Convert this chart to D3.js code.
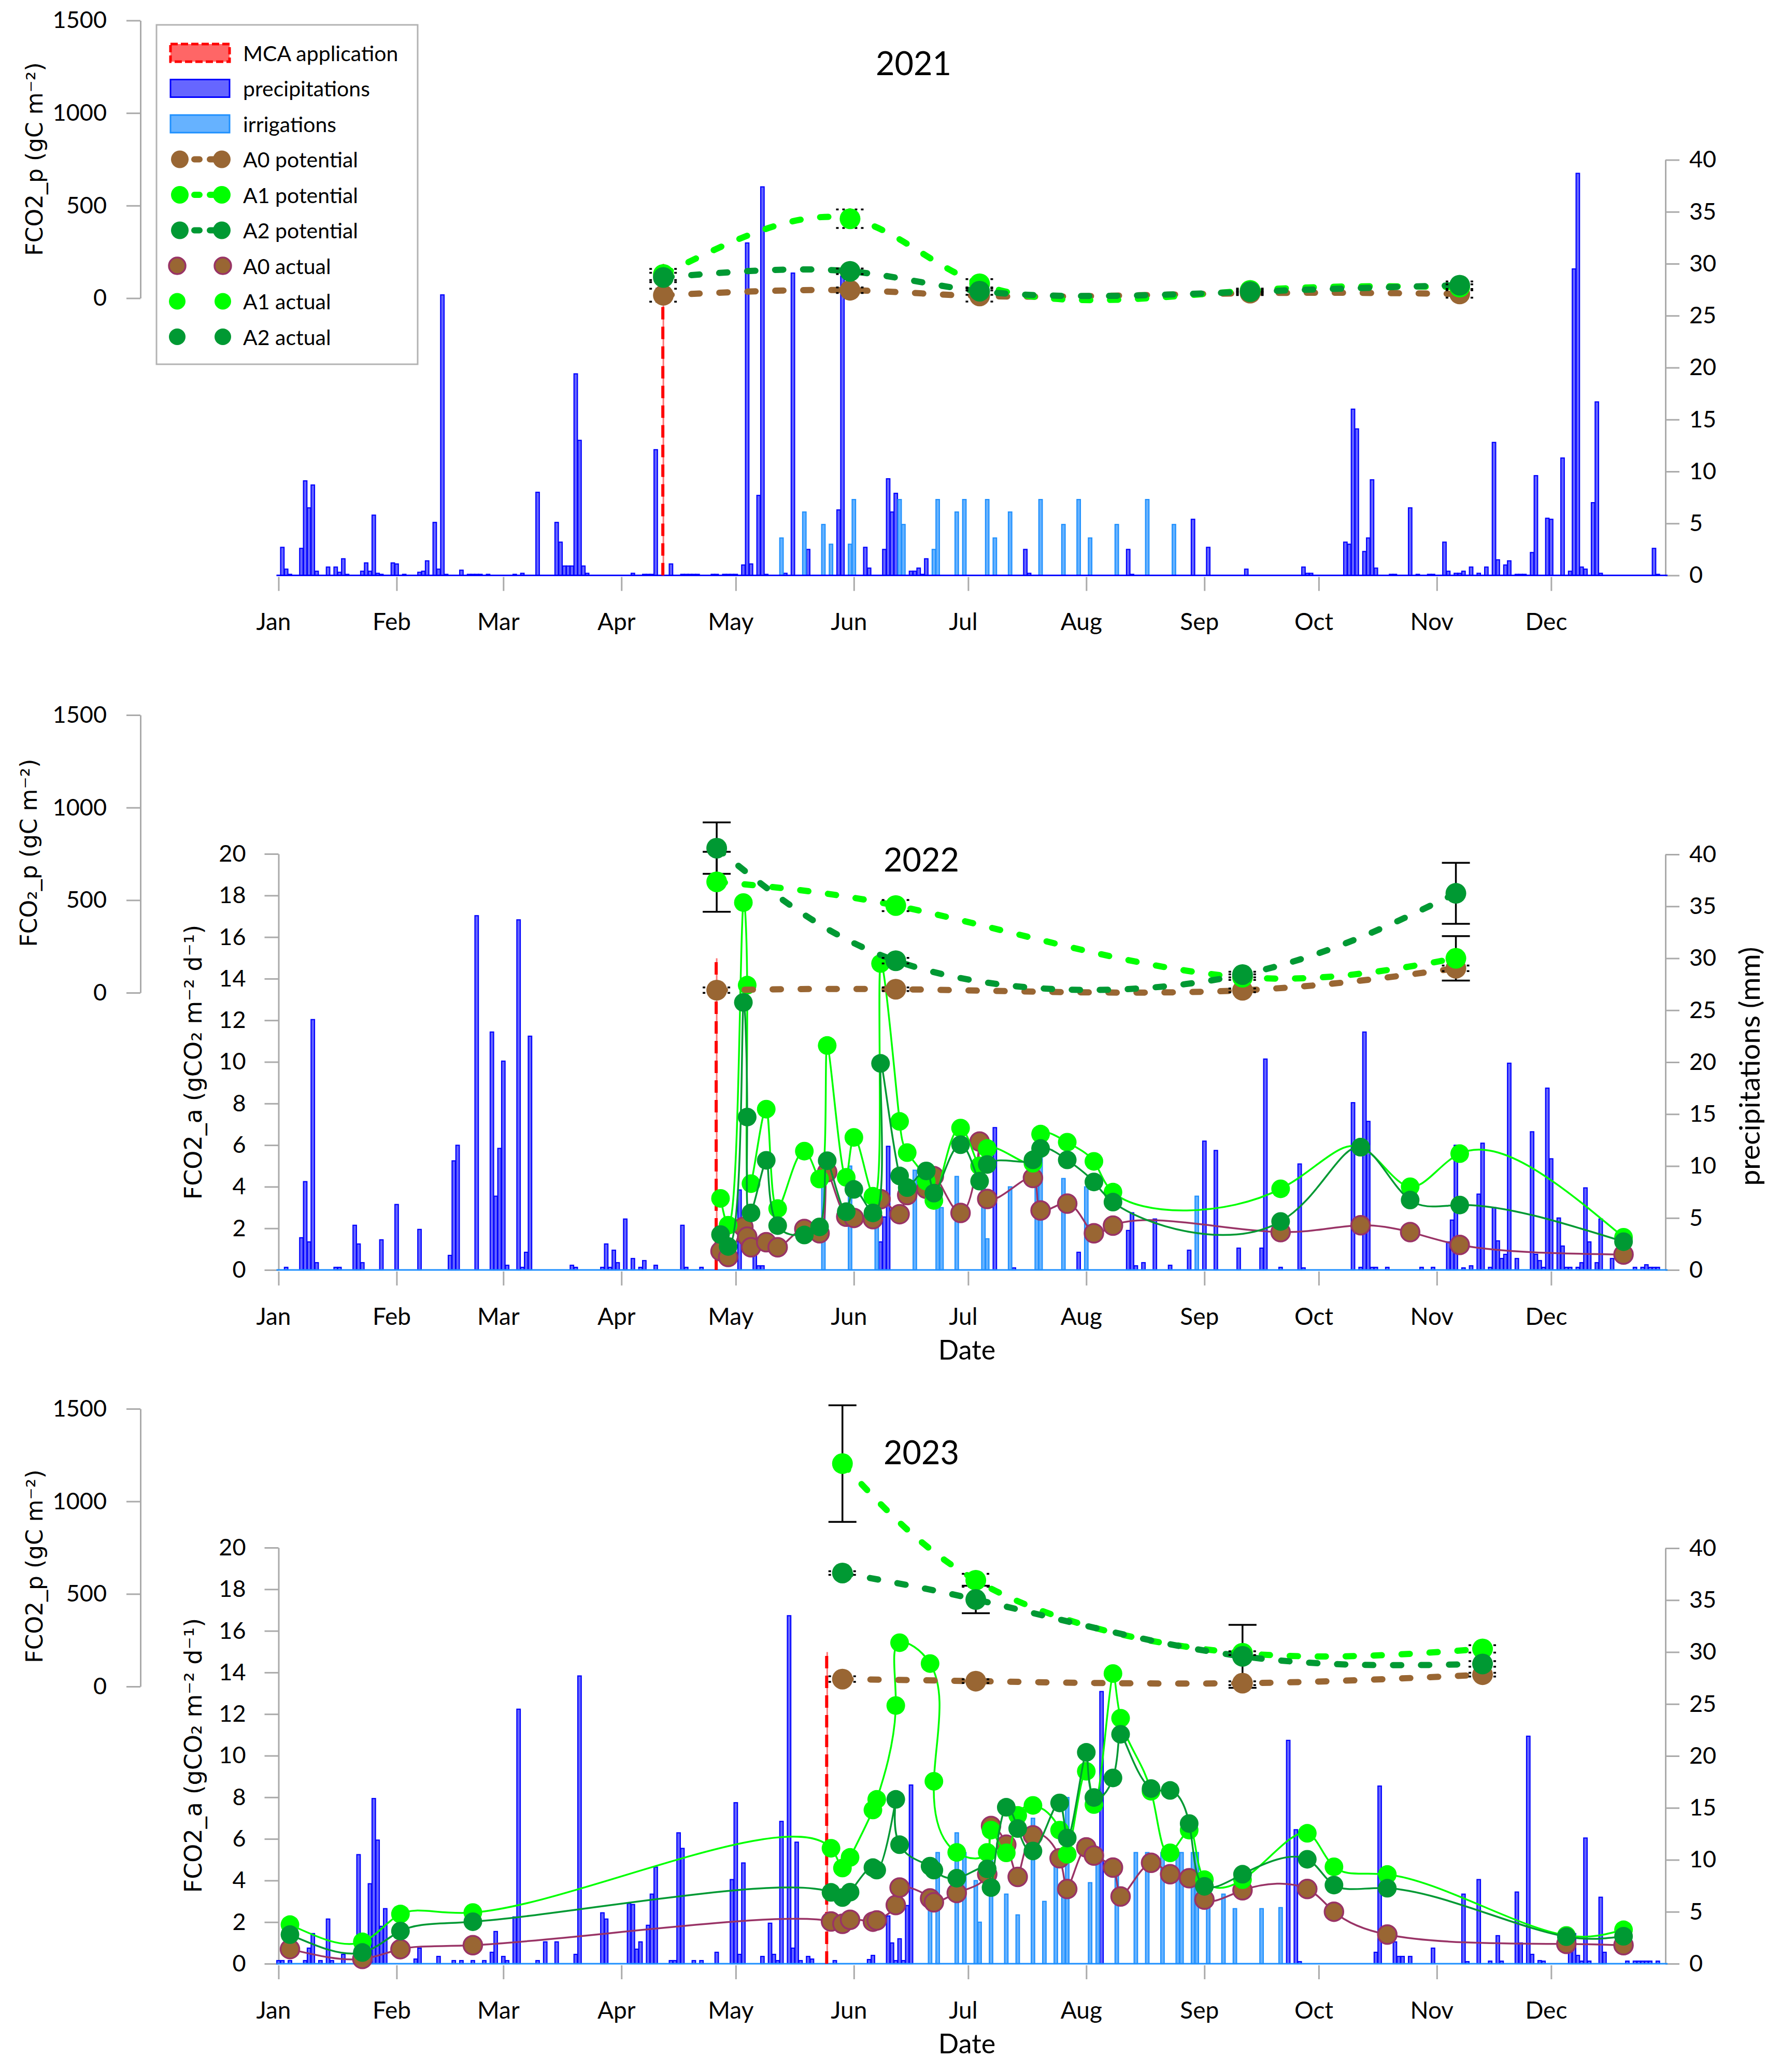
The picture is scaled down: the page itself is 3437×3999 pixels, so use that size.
<!DOCTYPE html>
<html>
<head>
<meta charset="utf-8">
<script src="https://cdn.jsdelivr.net/npm/d3@7"></script>
<style>
  body { margin: 0; background: #fff; }
</style>
</head>
<body>
<div id="chart"></div>
<script>
// ---- data (day index: 0 = 1 Jan) ----

// daily precipitation, [day, mm]
const rain2021 = [[1,2.7],[2,0.6],[3,0.1],[6,2.6],[7,9.1],[8,6.5],[9,8.7],[10,0.4],[13,0.8],[15,0.8],[16,0.3],[17,1.6],[18,0.1],
  [22,0.4],[23,1.2],[24,0.4],[25,5.8],[26,0.2],[27,0.1],[30,1.2],[31,1.1],[33,0.1],[37,0.3],[38,0.4],[39,1.4],[41,5.1],[42,0.6],
  [43,27.0],[44,0.1],[48,0.5],[50,0.1],[51,0.1],[52,0.1],[53,0.1],[55,0.1],[62,0.1],[64,0.2],[68,8.0],[73,5.1],[74,3.2],[75,0.9],
  [76,0.9],[77,0.9],[78,19.4],[79,13.0],[80,0.9],[81,0.2],[93,0.2],[96,0.1],[97,0.1],[98,0.1],[99,12.1],[103,1.1],[106,0.1],
  [107,0.1],[108,0.1],[109,0.1],[110,0.1],[114,0.1],[115,0.1],[117,0.1],[118,0.1],[119,0.1],[120,0.1],[122,1.0],[123,32.0],
  [124,1.1],[126,7.7],[127,37.4],[128,0.1],[133,0.2],[135,29.1],[139,2.5],[147,6.3],[148,28.8],[154,2.7],[155,0.7],[159,2.5],
  [160,9.3],[161,6.1],[162,7.9],[166,0.4],[167,0.4],[168,0.7],[169,0.1],[170,1.6],[196,2.5],[197,0.2],[223,2.5],[224,0.1],
  [240,5.4],[244,2.7],[254,0.6],[269,0.8],[270,0.2],[271,0.2],[280,3.2],[281,3.0],[282,16.0],[283,14.1],[285,2.3],[286,3.6],
  [287,9.2],[288,0.7],[292,0.1],[293,0.1],[297,6.5],[299,0.1],[302,0.1],[303,0.1],[306,3.2],[307,0.4],[309,0.2],[310,0.2],
  [311,0.4],[313,0.8],[315,0.2],[317,0.8],[319,12.8],[320,1.5],[322,1.0],[323,1.4],[325,0.1],[326,0.1],[327,0.1],[329,2.2],
  [330,9.6],[333,5.5],[334,5.4],[337,11.3],[339,0.4],[340,29.5],[341,38.7],[342,0.8],[343,0.6],[345,7.0],[346,16.7],[347,0.2],
  [361,2.6],[362,0.1]];
const irr2021 = [[132,3.6],[138,6.1],[143,4.9],[145,3.0],[150,3.0],[151,7.3],[163,7.3],[164,4.9],[172,2.5],[173,7.3],[178,6.1],
  [180,7.3],[186,7.3],[188,3.6],[192,6.1],[200,7.3],[206,4.9],[210,7.3],[213,3.6],[220,4.9],[228,7.3],[235,4.9]];

const rain2022 = [[2,0.25],[6,3.1],[7,8.5],[8,2.7],[9,24.1],[10,0.7],[15,0.25],[16,0.25],[20,4.3],[21,2.5],[22,0.7],[27,2.9],
  [31,6.3],[37,3.9],[45,1.4],[46,10.5],[47,12.0],[52,34.1],[56,22.9],[57,7.1],[58,11.7],[59,20.1],[60,0.45],[63,33.7],[64,0.25],
  [65,1.7],[66,22.5],[77,0.45],[78,0.25],[85,0.25],[86,2.5],[87,0.25],[88,1.9],[89,0.7],[91,4.9],[93,1.1],[95,0.25],[96,0.9],
  [99,0.45],[106,4.3],[107,0.25],[111,0.25],[121,7.7],[125,3.3],[126,0.4],[127,0.4],[158,2.7],[159,5.1],[160,11.9],[188,13.7],
  [193,0.2],[210,1.7],[223,3.8],[224,5.5],[225,0.4],[227,0.7],[230,4.9],[234,0.45],[239,1.9],[243,12.4],[246,11.5],[252,2.1],
  [258,2.1],[259,20.3],[263,0.25],[268,10.2],[269,0.2],[282,16.1],[284,0.25],[285,22.9],[286,14.3],[287,0.25],[288,0.25],
  [291,0.25],[300,0.25],[303,0.25],[307,2.7],[308,4.8],[309,12.0],[311,0.2],[313,0.4],[315,7.3],[316,12.2],[318,0.25],[319,6.0],
  [320,2.8],[321,1.1],[322,1.5],[323,19.9],[325,1.1],[329,13.3],[330,1.5],[331,0.9],[332,0.25],[333,17.5],[334,10.7],[336,5.0],
  [337,2.3],[338,0.25],[339,0.25],[341,0.25],[342,0.7],[343,7.9],[344,2.7],[346,0.7],[347,4.9],[350,1.1],[356,0.25],[358,0.25],
  [359,0.5],[360,0.25],[361,0.25],[362,0.25]];
const irr2022 = [[143,10.0],[150,10.0],[157,6.3],[167,9.6],[173,9.0],[174,6.0],[178,9.0],[185,9.0],[186,3.0],[192,8.0],
  [199,10.4],[200,11.3],[206,8.8],[212,8.0],[241,7.1]];

const rain2023 = [[0,0.3],[1,0.3],[3,0.3],[7,0.3],[8,1.5],[9,2.9],[11,0.3],[13,4.3],[14,0.3],[17,0.9],[21,10.5],[24,7.7],
  [25,15.9],[26,11.9],[27,3.6],[28,5.3],[36,0.45],[37,1.5],[42,0.7],[46,0.3],[48,0.3],[51,0.3],[54,0.3],[56,1.1],[57,3.1],
  [59,0.7],[60,0.3],[62,4.5],[63,24.5],[68,0.3],[70,2.1],[73,2.1],[78,0.9],[79,27.7],[85,4.9],[86,4.3],[92,5.8],[93,5.7],
  [94,1.4],[95,2.1],[97,3.7],[98,6.7],[99,9.3],[103,0.3],[104,0.3],[105,12.6],[106,11.1],[109,0.3],[111,0.3],[115,1.1],
  [119,8.1],[120,15.5],[121,0.9],[122,9.7],[127,0.7],[129,3.9],[130,0.9],[131,0.3],[132,13.7],[134,33.5],[135,1.5],[136,11.7],
  [137,0.3],[139,0.7],[140,0.45],[146,0.3],[155,0.4],[156,0.8],[160,4.6],[161,2.0],[162,0.3],[163,2.4],[164,0.3],[165,5.6],
  [166,17.2],[173,0.3],[216,26.2],[265,21.5],[267,12.9],[268,0.2],[288,1.1],[289,17.1],[293,2.1],[294,0.7],[295,0.7],[297,0.7],
  [303,1.5],[311,6.7],[312,0.2],[315,8.1],[318,0.25],[320,2.7],[321,0.25],[325,6.9],[326,2.0],[328,21.9],[329,0.9],[331,0.3],
  [332,0.25],[339,2.1],[340,2.9],[341,0.8],[342,0.25],[343,12.1],[344,0.25],[347,6.4],[348,1.1],[354,0.25],[356,0.25],
  [357,0.25],[358,0.25],[359,0.25],[360,0.25],[362,0.25]];
const irr2023 = [[171,5.3],[173,10.7],[178,12.6],[180,10.7],[183,8.0],[184,4.0],[187,10.7],[191,6.7],[194,4.7],[198,14.0],
  [201,6.0],[204,10.7],[206,7.3],[207,16.0],[213,7.8],[215,10.7],[220,9.4],[225,10.7],[228,10.7],[232,10.7],[236,10.7],
  [237,10.7],[240,10.7],[241,10.7],[244,6.7],[248,6.7],[251,5.3],[258,5.3],[263,5.4]];

// MCA application day
const mcaDays = [101, 115, 144];

// potential FCO2 (gC m-2) with error bars
const pot2021Days = [101, 150, 184, 255, 310];
const pot2021A0 = [16, 43, 12, 27, 23];
const pot2021A1 = [128, 429, 78, 42, 60];
const pot2021A2 = [112, 145, 38, 35, 70];
const err2021A0 = [35, 15, 30, 10, 20];
const err2021A1 = [30, 50, 25, 10, 15];
const err2021A2 = [25, 15, 20, 10, 20];

const pot2022Days = [115, 162, 253, 309];
const pot2022A0 = [14, 19, 13, 132];
const pot2022A1 = [599, 471, 84, 186];
const pot2022A2 = [781, 173, 98, 537];
const err2022A0 = [15, 10, 10, 15];
const err2022A1 = [162, 30, 15, 120];
const err2022A2 = [139, 15, 15, 165];

const pot2023Days = [148, 183, 253, 316];
const pot2023A0 = [40, 29, 18, 64];
const pot2023A1 = [1204, 574, 180, 203];
const pot2023A2 = [613, 470, 163, 122];
const err2023A0 = [15, 10, 10, 10];
const err2023A1 = [315, 35, 10, 20];
const err2023A2 = [10, 74, 170, 15];

// actual FCO2 (gCO2 m-2 d-1)
const act2022Days = [116,118,122,123,124,128,131,138,142,144,149,151,156,158,163,165,170,172,179,184,186,198,200,207,214,219,263,284,297,310,353];
const act2022A0 = [0.9,0.62,2.07,1.6,1.09,1.33,1.09,1.97,1.76,4.7,2.56,2.5,2.44,3.4,2.68,3.6,3.9,4.51,2.74,6.17,3.41,4.42,2.86,3.19,1.76,2.13,1.82,2.15,1.82,1.2,0.74];
const act2022A1 = [3.44,2.15,17.66,13.69,4.15,7.73,2.95,5.71,4.37,10.79,4.45,6.37,3.54,14.73,7.14,5.64,4.27,3.34,6.82,5.0,5.84,5.13,6.53,6.14,5.22,3.74,3.9,5.9,4.0,5.59,1.57];
const act2022A2 = [1.7,1.13,12.86,7.35,2.74,5.27,2.13,1.68,2.07,5.25,2.8,3.87,2.74,9.93,4.52,3.96,4.76,3.69,6.02,4.27,5.07,5.29,5.84,5.29,4.23,3.26,2.33,5.9,3.36,3.12,1.36];

const act2023Days = [3,22,32,51,145,148,150,156,157,162,163,171,172,178,186,187,191,194,198,205,207,212,214,219,221,229,234,239,243,253,270,277,291,338,353];
const act2023A0 = [0.7,0.23,0.7,0.89,2.03,1.92,2.11,2.02,2.08,2.82,3.66,3.14,2.95,3.4,4.3,6.62,5.72,4.17,6.17,5.07,3.59,5.59,5.2,4.62,3.23,4.85,4.3,4.11,3.08,3.53,3.59,2.5,1.4,0.95,0.89];
const act2023A1 = [1.88,1.05,2.39,2.46,5.55,4.6,5.11,7.39,7.9,12.41,15.43,14.43,8.77,5.35,5.35,6.42,5.33,7.13,7.61,6.42,5.26,9.25,7.65,13.95,11.8,8.29,5.33,6.42,4.04,4.04,6.27,4.66,4.29,1.36,1.63];
const act2023A2 = [1.4,0.54,1.57,2.02,3.43,3.18,3.44,4.62,4.5,7.9,5.72,4.69,4.5,4.11,4.56,3.66,7.52,6.5,5.42,7.73,6.04,10.16,7.99,8.93,11.03,8.42,8.33,6.74,3.72,4.3,5.02,3.78,3.63,1.3,1.32];

const rainTicks = [0, 5, 10, 15, 20, 25, 30, 35, 40];
const potTicks = [0, 500, 1000, 1500];
const actTicks = [0, 2, 4, 6, 8, 10, 12, 14, 16, 18, 20];
const legendLabels = ["MCA application", "precipitations", "irrigations", "A0 potential", "A1 potential",
  "A2 potential", "A0 actual", "A1 actual", "A2 actual"];

// ---- drawing ----
const W = 3437, H = 3999;
const X0 = 537.5, X1 = 3214, PAX = 271;
const FONT = "Lato, 'Open Sans', sans-serif";
const FONT2 = "'DejaVu Sans', Verdana, sans-serif";
const col = {
  a0: "#996633", a0line: "#993366", a1: "#00ff00", a2: "#009933",
  rain: "#6666ff", rainS: "#0000ff", irr: "#66b2ff", irrS: "#1e90ff", axis: "#aaaaaa"
};

// natural cubic spline through the points, parametrised by chord length^0.65
function solveM(p, h) {
  const n = p.length, m = n - 2;
  const M = new Array(n).fill(0);
  const a = [], b = [], c = [], r = [];
  for (let i = 1; i <= n - 2; i++) {
    a.push(h[i - 1]); b.push(2 * (h[i - 1] + h[i])); c.push(h[i]);
    r.push(6 * ((p[i + 1] - p[i]) / h[i] - (p[i] - p[i - 1]) / h[i - 1]));
  }
  for (let i = 1; i < m; i++) {
    const w = a[i] / b[i - 1];
    b[i] -= w * c[i - 1];
    r[i] -= w * r[i - 1];
  }
  const s = new Array(m);
  s[m - 1] = r[m - 1] / b[m - 1];
  for (let i = m - 2; i >= 0; i--) s[i] = (r[i] - c[i] * s[i + 1]) / b[i];
  for (let i = 0; i < m; i++) M[i + 1] = s[i];
  return M;
}
function curveSpline(context) {
  let pts;
  return {
    areaStart() {}, areaEnd() {},
    lineStart() { pts = []; },
    point(x, y) { pts.push([+x, +y]); },
    lineEnd() {
      const n = pts.length;
      if (!n) return;
      context.moveTo(pts[0][0], pts[0][1]);
      if (n === 1) return;
      if (n === 2) { context.lineTo(pts[1][0], pts[1][1]); return; }
      const h = [];
      for (let i = 0; i < n - 1; i++) {
        const dist = Math.hypot(pts[i + 1][0] - pts[i][0], pts[i + 1][1] - pts[i][1]);
        h.push(Math.max(1e-6, Math.pow(dist, 0.65)));
      }
      const M = [0, 1].map(k => solveM(pts.map(q => q[k]), h));
      for (let i = 0; i < n - 1; i++) {
        const c1 = [], c2 = [];
        for (let k = 0; k < 2; k++) {
          const p0 = pts[i][k], p1 = pts[i + 1][k], m0 = M[k][i], m1 = M[k][i + 1], hi = h[i];
          const sl = (p1 - p0) / hi;
          const d0 = sl - hi * (2 * m0 + m1) / 6;
          const d1 = sl + hi * (m0 + 2 * m1) / 6;
          c1[k] = p0 + d0 * hi / 3;
          c2[k] = p1 - d1 * hi / 3;
        }
        context.bezierCurveTo(c1[0], c1[1], c2[0], c2[1], pts[i + 1][0], pts[i + 1][1]);
      }
    }
  };
}

const svg = d3.select("#chart").append("svg")
  .attr("width", W).attr("height", H)
  .style("background", "#fff");

const panels = [
  { year: 2021, base: 1110.5, titleY: 145, titleX: 1763, rain: rain2021, irr: irr2021, mca: mcaDays[0],
    potDays: pot2021Days, pot: [pot2021A0, pot2021A1, pot2021A2], err: [err2021A0, err2021A1, err2021A2],
    act: null, pLabel: "FCO2_p (gC m\u207b\u00b2)", pLabelPos: [66, 307], baseColor: col.rainS },
  { year: 2022, base: 2451, titleY: 1682, titleX: 1778, rain: rain2022, irr: irr2022, mca: mcaDays[1],
    potDays: pot2022Days, pot: [pot2022A0, pot2022A1, pot2022A2], err: [err2022A0, err2022A1, err2022A2],
    actDays: act2022Days, act: [act2022A0, act2022A1, act2022A2],
    pLabel: "FCO\u2082_p (gC m\u207b\u00b2)", pLabelPos: [55, 1646], aLabelPos: [373, 2050],
    rLabel: true, dateLabel: 2624, baseColor: col.irrS },
  { year: 2023, base: 3790, titleY: 2826, titleX: 1778, rain: rain2023, irr: irr2023, mca: mcaDays[2],
    potDays: pot2023Days, pot: [pot2023A0, pot2023A1, pot2023A2], err: [err2023A0, err2023A1, err2023A2],
    actDays: act2023Days, act: [act2023A0, act2023A1, act2023A2],
    pLabel: "FCO2_p (gC m\u207b\u00b2)", pLabelPos: [66, 3023], aLabelPos: [373, 3388],
    dateLabel: 3963, baseColor: col.irrS }
];

function styleAxis(sel, size) {
  sel.select(".domain").attr("stroke", col.axis).attr("stroke-width", 3);
  sel.selectAll(".tick line").attr("stroke", col.axis).attr("stroke-width", 3);
  sel.selectAll(".tick text").attr("font-size", size).attr("fill", "#000").attr("font-family", FONT);
}

const potFill = [col.a0, col.a1, col.a2];
const actLine = [col.a0line, col.a1, col.a2];
const fmt = d3.format("d");

panels.forEach(p => {
  const g = svg.append("g");
  const jan1 = new Date(p.year, 0, 1);
  const day = d => d3.timeDay.offset(jan1, d);
  const x = d3.scaleTime().domain([jan1, new Date(p.year, 11, 31)]).range([X0, X1]);
  const yR = d3.scaleLinear().domain([0, 40]).range([p.base, p.base - 802]);
  const pZero = p.base - 535;
  const yP = d3.scaleLinear().domain([0, 1500]).range([pZero, pZero - 536]);
  const yA = d3.scaleLinear().domain([0, 20]).range([p.base, p.base - 803]);

  // axes
  g.append("g").attr("transform", `translate(${PAX},0)`)
    .call(d3.axisLeft(yP).tickValues(potTicks).tickFormat(fmt).tickSize(27).tickPadding(38).tickSizeOuter(0))
    .call(s => styleAxis(s, 45));
  g.append("g").attr("transform", `translate(${X1},0)`)
    .call(d3.axisRight(yR).tickValues(rainTicks).tickFormat(fmt).tickSize(27).tickPadding(19).tickSizeOuter(0))
    .call(s => styleAxis(s, 45));
  if (p.act) {
    g.append("g").attr("transform", `translate(${X0},0)`)
      .call(d3.axisLeft(yA).tickValues(actTicks).tickFormat(fmt).tickSize(27).tickPadding(36).tickSizeOuter(0))
      .call(s => styleAxis(s, 45));
  }
  g.append("g").attr("transform", `translate(0,${p.base + 3})`)
    .call(d3.axisBottom(x).tickValues(d3.timeMonths(jan1, new Date(p.year, 11, 31)))
      .tickFormat(d3.timeFormat("%b")).tickSize(27).tickPadding(43).tickSizeOuter(0))
    .call(s => styleAxis(s, 46))
    .call(s => s.selectAll(".tick text").attr("dx", -10))
    .call(s => s.select(".domain").remove());

  // precipitation and irrigation bars
  g.append("g").selectAll("rect").data(p.rain).join("rect")
    .attr("x", d => x(day(d[0])) - 3.3).attr("width", 6.6)
    .attr("y", d => yR(d[1])).attr("height", d => p.base - yR(d[1]))
    .attr("fill", col.rain).attr("stroke", col.rainS).attr("stroke-width", 2.2);
  g.append("g").selectAll("rect").data(p.irr).join("rect")
    .attr("x", d => x(day(d[0])) - 3.3).attr("width", 6.6)
    .attr("y", d => yR(d[1])).attr("height", d => p.base - yR(d[1]))
    .attr("fill", col.irr).attr("stroke", col.irrS).attr("stroke-width", 2.2);
  g.append("line")
    .attr("x1", X0 - 4).attr("x2", X1 + 4).attr("y1", p.base).attr("y2", p.base)
    .attr("stroke", p.baseColor).attr("stroke-width", 3);

  // MCA application
  const mx = x(day(p.mca));
  g.append("line").attr("x1", mx).attr("x2", mx).attr("y1", yR(0)).attr("y2", yR(30))
    .attr("stroke", "#ff7777").attr("stroke-width", 3);
  g.append("line").attr("x1", mx - 1).attr("x2", mx - 1).attr("y1", yR(0)).attr("y2", yR(30))
    .attr("stroke", "#ff0000").attr("stroke-width", 6).attr("stroke-dasharray", "24,14");

  // actual series
  if (p.act) {
    p.act.forEach((vals, k) => {
      const pts = p.actDays.map((d, i) => [x(day(d)), yA(vals[i])]);
      g.append("path").attr("d", d3.line().curve(curveSpline)(pts))
        .attr("fill", "none").attr("stroke", actLine[k]).attr("stroke-width", 3.5);
      g.append("g").selectAll("circle").data(pts).join("circle")
        .attr("cx", d => d[0]).attr("cy", d => d[1]).attr("r", 18)
        .attr("fill", potFill[k])
        .attr("stroke", k === 0 ? col.a0line : "none").attr("stroke-width", 3.5);
    });
  }

  // potential series
  p.pot.forEach((vals, k) => {
    const pts = p.potDays.map((d, i) => [x(day(d)), yP(vals[i])]);
    g.append("path").attr("d", d3.line().curve(curveSpline)(pts))
      .attr("fill", "none").attr("stroke", potFill[k]).attr("stroke-width", 12)
      .attr("stroke-linecap", "round").attr("stroke-dasharray", "16,38");
  });
  p.pot.forEach((vals, k) => {
    const eg = g.append("g").attr("stroke", "#000").attr("stroke-width", 3.5);
    p.potDays.forEach((d, i) => {
      const cx = x(day(d)), e = p.err[k][i];
      const top = yP(vals[i] + e), bot = yP(vals[i] - e);
      const dash = e < 60 ? "5,7" : null;
      eg.append("line").attr("x1", cx).attr("x2", cx).attr("y1", top).attr("y2", bot).attr("stroke-dasharray", dash);
      [top, bot].forEach(yy => eg.append("line").attr("x1", cx - 27).attr("x2", cx + 27)
        .attr("y1", yy).attr("y2", yy).attr("stroke-dasharray", dash));
    });
  });
  p.pot.forEach((vals, k) => {
    g.append("g").selectAll("circle").data(p.potDays).join("circle")
      .attr("cx", d => x(day(d))).attr("cy", (d, i) => yP(vals[i])).attr("r", 20)
      .attr("fill", potFill[k]);
  });

  // titles and labels
  g.append("text").attr("x", p.titleX).attr("y", p.titleY).attr("text-anchor", "middle")
    .attr("font-family", FONT).attr("font-size", 63).text(p.year);
  g.append("text")
    .attr("transform", `translate(${p.pLabelPos[0]},${p.pLabelPos[1]}) rotate(-90)`)
    .attr("text-anchor", "middle").attr("dominant-baseline", "central")
    .attr("font-family", FONT2).attr("font-size", 44).text(p.pLabel);
  if (p.aLabelPos) {
    g.append("text")
      .attr("transform", `translate(${p.aLabelPos[0]},${p.aLabelPos[1]}) rotate(-90)`)
      .attr("text-anchor", "middle").attr("dominant-baseline", "central")
      .attr("font-family", FONT2).attr("font-size", 46)
      .text("FCO2_a (gCO\u2082 m\u207b\u00b2 d\u207b\u00b9)");
  }
  if (p.rLabel) {
    g.append("text")
      .attr("transform", `translate(3375,2058) rotate(-90)`)
      .attr("text-anchor", "middle").attr("dominant-baseline", "central")
      .attr("font-family", FONT).attr("font-size", 55).text("precipitations (mm)");
  }
  if (p.dateLabel) {
    g.append("text").attr("x", 1866).attr("y", p.dateLabel).attr("text-anchor", "middle")
      .attr("font-family", FONT).attr("font-size", 52).text("Date");
  }
});

// legend
const lg = svg.append("g");
lg.append("rect").attr("x", 302).attr("y", 48).attr("width", 504).attr("height", 655)
  .attr("fill", "#fff").attr("stroke", "#b3b3b3").attr("stroke-width", 3);
const rowY = i => 102 + i * 68.5;
legendLabels.forEach((lab, i) => {
  const cy = rowY(i);
  if (i === 0) {
    lg.append("rect").attr("x", 329).attr("y", cy - 17).attr("width", 114).attr("height", 34)
      .attr("fill", "#ff6666").attr("stroke", "#ff0000").attr("stroke-width", 5).attr("stroke-dasharray", "14,6");
  } else if (i < 3) {
    lg.append("rect").attr("x", 329).attr("y", cy - 17).attr("width", 114).attr("height", 34)
      .attr("fill", i === 1 ? col.rain : col.irr).attr("stroke", i === 1 ? col.rainS : col.irrS).attr("stroke-width", 3);
  } else if (i < 6) {
    const c = potFill[i - 3];
    lg.append("line").attr("x1", 347).attr("x2", 428).attr("y1", cy).attr("y2", cy)
      .attr("stroke", c).attr("stroke-width", 12).attr("stroke-linecap", "round").attr("stroke-dasharray", "10,20")
      .attr("stroke-dashoffset", -28);
    [347, 428].forEach(cx => lg.append("circle").attr("cx", cx).attr("cy", cy).attr("r", 17).attr("fill", c));
  } else {
    const k = i - 6;
    [342, 430].forEach(cx => lg.append("circle").attr("cx", cx).attr("cy", cy).attr("r", 16)
      .attr("fill", potFill[k]).attr("stroke", k === 0 ? col.a0line : "none").attr("stroke-width", 3.5));
  }
  lg.append("text").attr("x", 469).attr("y", cy).attr("dominant-baseline", "central")
    .attr("font-family", FONT).attr("font-size", 41).text(lab);
});
</script>
</body>
</html>
